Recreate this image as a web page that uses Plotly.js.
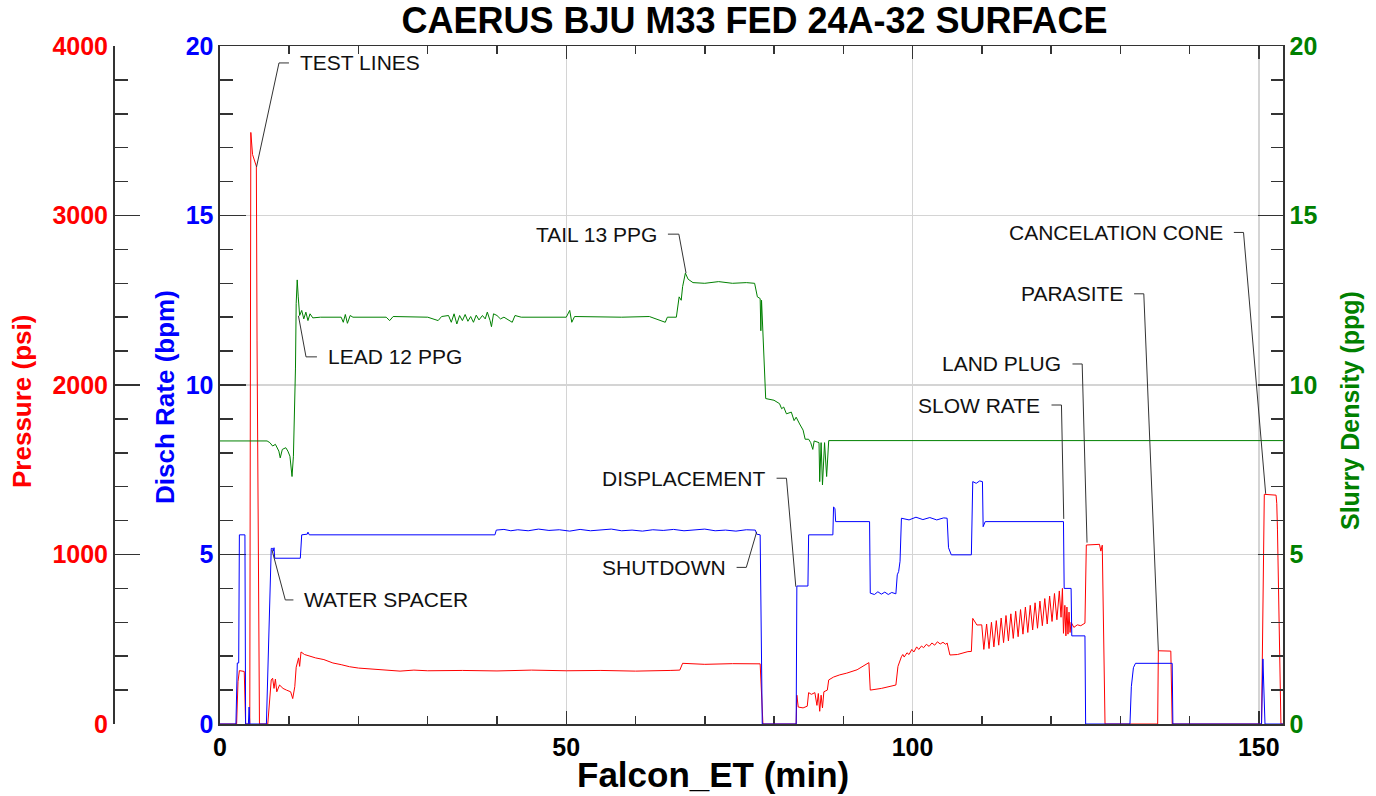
<!DOCTYPE html>
<html><head><meta charset="utf-8">
<script src="https://cdn.plot.ly/plotly-3.0.1.min.js"></script>
<style>html,body{margin:0;padding:0;background:#fff;} #chart{width:1376px;height:796px;}</style>
</head><body><div id="chart"></div>
<script>
// ---------------- DATA ----------------
const pressureTime = [0,2.4,2.6,2.8,3.5,3.7,4.3,4.45,4.7,5.25,5.35,5.7,6.9,7.4,7.6,7.8,8.0,8.2,8.6,9.1,9.6,10.2,10.5,10.8,11.0,11.35,11.5,11.7,12.2,12.6,13.8,15.0,16.3,17.5,18.7,20.0,21.5,23.6,26.0,28.0,30.0,35.0,40.0,45.0,50.0,55.0,60.0,65.0,66.4,66.8,70.0,74.0,78.0,78.4,83.2,83.3,83.5,84.2,84.8,85.0,85.4,85.9,86.2,86.4,86.6,86.8,87.0,87.2,87.7,87.9,88.6,89.5,90.5,92.0,93.7,93.9,95.5,97.6,97.9,98.4,98.6,98.8,99.2,99.5,99.9,100.2,100.6,100.9,101.3,101.6,102.0,102.4,102.8,103.2,103.6,104.0,104.4,104.8,105.0,105.4,106.5,108.0,108.5,108.7,109.3,110.0,110.3,110.7,111.05,111.4,111.75,112.1,112.45,112.8,113.15,113.5,113.85,114.2,114.55,114.9,115.25,115.6,115.95,116.3,116.65,117.0,117.35,117.7,118.05,118.4,118.75,119.1,119.45,119.8,120.15,120.5,120.85,121.2,121.45,121.65,121.8,122.0,122.15,122.3,122.45,122.6,122.75,122.9,123.3,123.8,124.3,124.9,125.1,127.0,127.2,127.4,127.8,135.4,135.5,137.3,137.5,150.4,150.8,152.5,152.6,152.7,153.2,153.5];
const pressurePsi = [0,0,250,315,310,0,0,3490,3360,3290,2260,0,0,260,270,210,265,190,230,210,200,190,150,220,335,390,340,425,410,405,390,380,360,350,338,330,325,319,312,318,314,316,313,318,314,316,312,316,318,358,352,356,355,0,0,170,100,95,105,185,175,185,110,180,75,170,95,190,200,260,277,290,300,320,362,200,210,230,340,397,410,395,420,410,440,425,455,440,460,450,470,458,478,465,485,472,482,470,478,407,410,427,428,623,584,585,440,590,445,600,455,610,465,625,480,640,490,650,505,665,515,675,530,690,540,700,555,715,565,725,580,740,590,755,605,770,615,785,630,800,535,700,520,690,530,660,540,600,570,585,580,595,1056,1060,1020,1055,0,0,432,430,0,0,1355,1350,1300,1150,0,0];

const rateTime = [0,2.3,2.5,2.7,2.8,3.6,3.7,4.1,4.2,4.3,6.7,7.0,7.4,7.6,7.7,7.8,7.9,11.6,11.8,12.6,12.7,12.9,39.7,39.9,41,42,43,44.5,46,47.5,49,50.5,52,53.5,55,56.5,58,59.5,61,62.5,64,65.5,67,68.5,70,71.5,73,74.5,76,77.3,77.5,78.0,78.3,83.2,83.3,84.9,85.0,88.5,88.6,88.8,88.9,93.8,93.9,94.5,95,95.5,96,96.5,97,97.6,97.8,98.0,98.2,98.4,99.5,100.5,101.5,102.5,103.5,104.5,105.0,105.2,105.6,108.5,108.7,109.2,109.7,110.1,110.2,110.5,121.8,121.9,122.9,123.0,124.9,125.0,131.4,131.6,131.9,132.2,137.5,137.6,150.4,150.6,150.9,153.5];
const rateBpm = [0,0,1.8,1.8,5.58,5.58,0,0,0.5,0,0,2.5,5.18,5.18,5.1,5.2,4.89,4.89,5.58,5.6,5.66,5.58,5.58,5.72,5.74,5.7,5.73,5.7,5.75,5.71,5.73,5.69,5.74,5.7,5.72,5.75,5.7,5.72,5.69,5.73,5.71,5.74,5.7,5.72,5.75,5.7,5.72,5.69,5.73,5.72,5.6,5.58,0,0,4.07,4.07,5.58,5.58,6.4,6.36,5.97,5.97,3.86,3.82,3.9,3.83,3.89,3.82,3.88,3.84,4.4,4.5,4.8,6.07,6.02,6.1,6.03,6.09,6.02,6.08,6.07,5.2,4.99,4.99,7.15,7.1,7.17,7.15,5.82,5.97,5.97,4.0,4.0,2.6,2.6,0,0,1.1,1.66,1.79,1.79,0,0,1.92,0,0];

const densityTime = [0,6.8,7.2,7.6,8.0,8.5,8.7,9.0,9.5,9.8,10.1,10.4,10.6,10.9,11.0,11.15,11.3,11.5,11.8,12.1,12.4,12.7,13.0,13.4,14.5,17.5,17.8,18.1,18.4,18.8,19.2,24,24.5,25,30,31.5,32,33,33.4,33.8,34.2,34.6,35.0,35.4,35.8,36.2,36.6,37.0,37.4,37.9,38.3,38.6,39.0,39.2,39.5,40.0,40.5,41.0,42.2,42.6,43.5,50.0,50.5,50.8,51.2,58,62,64.3,64.6,65.9,66.3,66.6,66.8,67.2,67.6,68.3,70,72,74,76,77.2,77.6,78.0,78.1,78.2,78.8,80.0,80.8,81.1,81.4,81.8,82.5,82.9,83.2,83.7,84.2,84.5,85.0,85.3,85.6,85.8,86.5,86.6,86.8,87.0,87.3,87.6,87.9,153.5];
const densityPpg = [8.35,8.35,8.3,8.2,8.25,8.05,7.85,8.1,8.15,8.05,7.9,7.3,7.9,10.5,12.4,13.1,12.6,12.05,12.2,11.95,12.15,11.9,12.1,11.98,12.0,12.0,11.85,12.08,11.82,12.05,12.0,12.0,11.9,12.02,12.0,11.9,12.02,12.05,11.85,12.1,11.8,12.05,11.9,12.08,11.88,12.02,11.85,12.06,11.92,12.05,11.95,12.15,11.9,11.72,12.1,12.05,11.95,12.0,11.85,12.05,12.0,12.0,12.2,11.85,12.02,12.0,12.02,11.85,12.0,12.0,12.6,12.5,12.9,13.3,13.12,13.02,13.0,13.05,13.0,13.02,13.0,12.6,12.55,11.6,12.5,9.6,9.55,9.45,9.3,9.35,9.15,9.2,8.95,9.05,8.85,8.67,8.4,8.4,8.3,8.1,8.35,8.3,7.15,8.3,7.05,8.3,7.3,8.36,8.36];

// annotation labels with leader lines (x in min, y in Disch Rate units)
const labelText   = ['TEST LINES','LEAD 12 PPG','WATER SPACER','TAIL 13 PPG','SHUTDOWN','DISPLACEMENT','SLOW RATE','LAND PLUG','PARASITE','CANCELATION CONE'];
const labelSide   = ['left','left','left','right','right','right','right','right','right','right'];
const labelTargetX = [5.27,11.33,7.51,67.3,77.5,83.15,121.84,125.2,135.5,151.0];
const labelTargetY = [16.43,12.04,5.13,13.3,5.67,4.05,6.05,5.35,2.16,6.79];
const labelElbowX  = [8.52,12.42,9.43,66.26,76.0,81.8,121.51,124.5,133.4,147.8];
const labelElbowY  = [19.5,10.83,3.66,14.45,4.62,7.25,9.41,10.62,12.69,14.5];
const labelEndX    = [9.96,14.0,10.6,64.68,74.6,80.37,120.07,123.1,132.0,146.4];

// axis titles
const axisTitleText  = ['Pressure (psi)', 'Disch Rate (bpm)', 'Slurry Density (ppg)', 'Falcon_ET (min)'];
const axisTitleColor = ['#ff0000', '#0000ff', '#008000', '#000000'];

// ---------------- CHART ----------------
const FONT = 'Liberation Sans, Arial, Helvetica, sans-serif';
const AX = '#333333';
const GRID = '#d4d4d4';

const traces = [
  {x: densityTime, y: densityPpg, yaxis: 'y3', type: 'scatter', mode: 'lines', line: {color: '#008000', width: 1}, name: 'Slurry Density'},
  {x: pressureTime, y: pressurePsi, yaxis: 'y', type: 'scatter', mode: 'lines', line: {color: '#ff0000', width: 1}, name: 'Pressure'},
  {x: rateTime, y: rateBpm, yaxis: 'y2', type: 'scatter', mode: 'lines', line: {color: '#0000ff', width: 1}, name: 'Disch Rate'}
];

const shapes = labelText.map((t, i) => ({
  type: 'path', xref: 'x', yref: 'y2',
  path: `M ${labelEndX[i]},${labelElbowY[i]} L ${labelElbowX[i]},${labelElbowY[i]} L ${labelTargetX[i]},${labelTargetY[i]}`,
  line: {color: '#333', width: 1}
}));

const annotations = labelText.map((t, i) => ({
  text: t, x: labelEndX[i], y: labelElbowY[i], xref: 'x', yref: 'y2',
  xanchor: labelSide[i] === 'left' ? 'left' : 'right', yanchor: 'middle',
  xshift: labelSide[i] === 'left' ? 9 : -9,
  showarrow: false, font: {family: FONT, size: 21, color: '#111'}
}));

// axis titles placed as rotated annotations (paper coordinates)
const titlePos = [
  {x: -0.0778, y: 0.4764, angle: -90, size: 26},
  {x: 0.0444, y: 0.4823, angle: -90, size: 26},
  {x: 1.0573, y: 0.4617, angle: -90, size: 25},
  {x: 0.5128, y: -0.0752, angle: 0, size: 35}
];
axisTitleText.forEach((t, i) => annotations.push({
  text: t, xref: 'paper', yref: 'paper', x: titlePos[i].x, y: titlePos[i].y,
  xanchor: 'center', yanchor: 'middle', textangle: titlePos[i].angle, showarrow: false,
  font: {family: FONT, size: titlePos[i].size, color: axisTitleColor[i], weight: 'bold'}
}));

const tickFont = (c) => ({family: FONT, size: 25, color: c, weight: 'bold'});

const layout = {
  width: 1376, height: 796,
  margin: {l: 113, r: 93, t: 46, b: 72},
  paper_bgcolor: '#fff', plot_bgcolor: '#fff',
  showlegend: false, hovermode: false,
  title: {text: 'CAERUS BJU M33 FED 24A-32 SURFACE', font: {family: FONT, size: 36, color: '#000', weight: 'bold'},
          x: 0.5483, xref: 'paper', xanchor: 'center', y: 0.975, yref: 'container', yanchor: 'middle'},
  xaxis: {domain: [0.09145, 1], range: [0, 153.5], tick0: 0, dtick: 50,
          ticks: 'inside', ticklen: 13, tickwidth: 1.5, tickcolor: AX,
          minor: {ticks: 'inside', ticklen: 8, dtick: 10, tickwidth: 1.5, tickcolor: AX, showgrid: false},
          showline: true, linecolor: AX, linewidth: 1.5, mirror: 'ticks',
          showgrid: true, gridcolor: GRID, gridwidth: 1.5, zeroline: false,
          tickfont: tickFont('#000'), ticklabelstandoff: 0, layer: 'below traces'},
  yaxis: {anchor: 'free', position: 0, side: 'left', range: [0, 4000], tick0: 0, dtick: 1000,
          ticks: 'inside', ticklen: 25, tickwidth: 1.5, tickcolor: AX,
          minor: {ticks: 'inside', ticklen: 13, dtick: 200, tickwidth: 1.5, tickcolor: AX, showgrid: false},
          showline: true, linecolor: AX, linewidth: 1.5, showgrid: false, zeroline: false,
          tickfont: tickFont('#ff0000')},
  yaxis2: {overlaying: 'y', anchor: 'x', side: 'left', range: [0, 20], tick0: 0, dtick: 5,
          ticks: 'inside', ticklen: 26, tickwidth: 1.5, tickcolor: AX,
          minor: {ticks: 'inside', ticklen: 13, dtick: 1, tickwidth: 1.5, tickcolor: AX, showgrid: false},
          showline: true, linecolor: AX, linewidth: 1.5, showgrid: true, gridcolor: GRID, gridwidth: 1.5, zeroline: false,
          tickfont: tickFont('#0000ff'), layer: 'below traces'},
  yaxis3: {overlaying: 'y', anchor: 'x', side: 'right', range: [0, 20], tick0: 0, dtick: 5,
          ticks: 'inside', ticklen: 25, tickwidth: 1.5, tickcolor: AX,
          minor: {ticks: 'inside', ticklen: 12, dtick: 1, tickwidth: 1.5, tickcolor: AX, showgrid: false},
          showline: true, linecolor: AX, linewidth: 1.5, showgrid: false, zeroline: false,
          tickfont: tickFont('#008000')},
  shapes: shapes,
  annotations: annotations
};

Plotly.newPlot('chart', traces, layout, {displayModeBar: false, staticPlot: true});
</script>
</body></html>
